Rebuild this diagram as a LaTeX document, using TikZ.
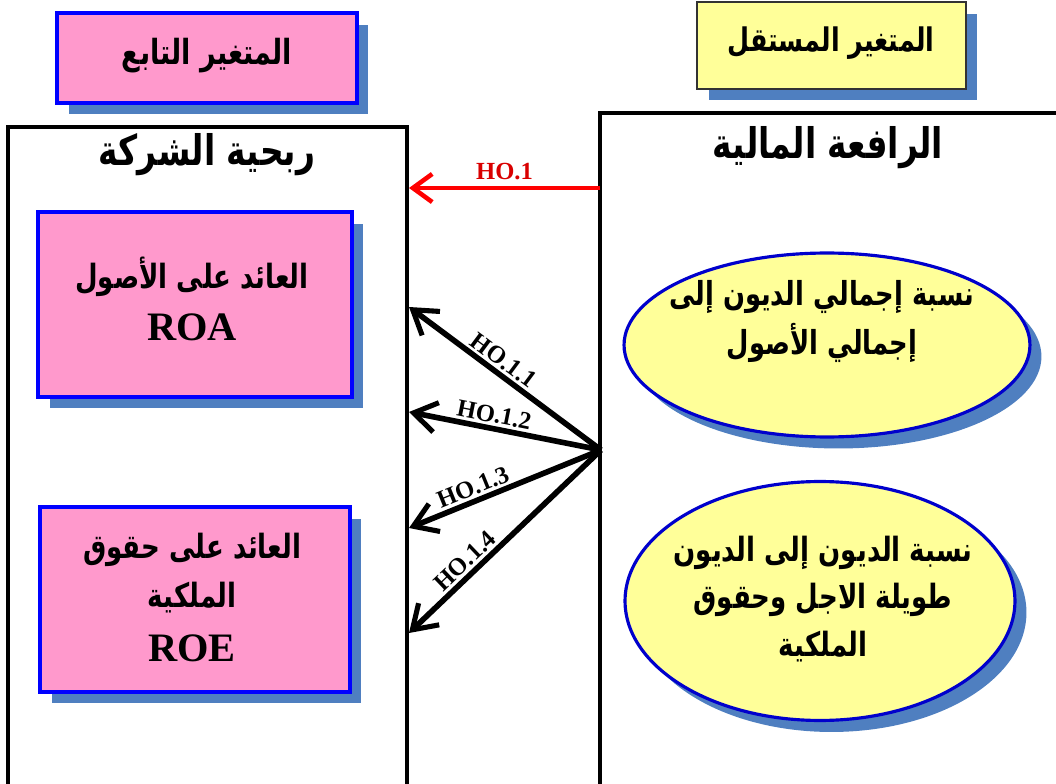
\documentclass[tikz,border=0pt]{standalone}
\usepackage{fontspec}
\setmainfont{Liberation Serif}
\newfontfamily\arabicfont[Script=Arabic, FakeStretch=0.78]{DejaVu Sans}
\TeXXeTstate=1
\usetikzlibrary{arrows.meta,shapes.geometric,shadows}
\definecolor{pinkfill}{HTML}{FF99CC}
\definecolor{yellowfill}{HTML}{FFFF99}
\definecolor{shadowblue}{HTML}{4F7FC0}
\definecolor{borderblue}{HTML}{0000FF}
\definecolor{ellborder}{HTML}{0000CC}
\tikzset{
  shad/.style={drop shadow={shadow xshift=0.23cm, shadow yshift=-0.23cm, fill=shadowblue, opacity=1}},
  pinkbox/.style={draw=borderblue, line width=2.4pt, fill=pinkfill, shad, align=center, inner sep=0pt},
  yellowbox/.style={draw=black!80, line width=0.8pt, fill=yellowfill, shad, align=center, inner sep=0pt},
  oval/.style={ellipse, draw=ellborder, line width=1.8pt, fill=yellowfill, shad, inner sep=0pt},
  frame/.style={draw=black, line width=1.8pt},
  ar/.style={font=\arabicfont\bfseries\fontsize{#1}{#1}\selectfont, align=center, inner sep=0pt},
  ar/.default=20,
  hlabel/.style={font=\bfseries\fontsize{14}{16}\selectfont, inner sep=0.5pt},
  hyp/.style={line width=3.2pt, -{Straight Barb[length=13pt, width=17pt, line width=2.9pt]}},
}
\begin{document}
\begin{tikzpicture}[x=0.02cm,y=-0.02cm]
\useasboundingbox (0,0) rectangle (1056,784);
% frames
\draw[frame] (8,800) -- (8,127) -- (407,127) -- (407,800);
\draw[frame] (600,800) -- (600,113) -- (1070,113);
% header boxes
\node[pinkbox, minimum width=6cm, minimum height=1.8cm] (dep) at (207,58) {};
\node[ar=19.7] (deptext) at (207,56) {\beginR المتغير التابع\endR};
\node[yellowbox, minimum width=5.38cm, minimum height=1.74cm] (ind) at (831.5,45.5) {};
\node[ar=18.5] (indtext) at (831,43) {\beginR المتغير المستقل\endR};
% titles
\node[ar=24] (ltitle) at (207,155) {\beginR ربحية الشركة\endR};
\node[ar=24] (rtitle) at (828,148) {\beginR الرافعة المالية\endR};
% left boxes
\node[pinkbox, minimum width=6.28cm, minimum height=3.7cm] (roa) at (195,304.5) {};
\node[ar=19] (roa1) at (192,277) {\beginR العائد على الأصول\endR};
\node[font=\bfseries\fontsize{23}{26}\selectfont, inner sep=0pt] (roa2) at (192,327) {ROA};
\node[pinkbox, minimum width=6.2cm, minimum height=3.7cm] (roe) at (195,599.5) {};
\node[ar=19] (roe1) at (192,550) {\beginR العائد على حقوق\endR};
\node[ar=19] (roe2) at (192,598) {\beginR الملكية\endR};
\node[font=\bfseries\fontsize{23}{26}\selectfont, inner sep=0pt] (roe3) at (192,648) {ROE};
% ellipses
\node[oval, minimum width=8.12cm, minimum height=3.68cm] (e1) at (827,345) {};
\node[ar=18.8] (e1a) at (822,297) {\beginR نسبة إجمالي الديون إلى\endR};
\node[ar=18.8] (e1b) at (822,343) {\beginR إجمالي الأصول\endR};
\node[oval, minimum width=7.8cm, minimum height=4.78cm] (e2) at (820,601) {};
\node[ar=19] (e2a) at (823,553) {\beginR نسبة الديون إلى الديون\endR};
\node[ar=19] (e2b) at (823,600) {\beginR طويلة الاجل وحقوق\endR};
\node[ar=19] (e2c) at (823,647) {\beginR الملكية\endR};
% connectors
\coordinate (redsrc) at (600,188);
\coordinate (redtip) at (409,188);
\coordinate (src) at (601,450);
\coordinate (t1) at (409,307);
\coordinate (t2) at (409,412);
\coordinate (t3) at (409,528);
\coordinate (t4) at (409,633);
\draw[red, line width=2.8pt, -{Straight Barb[length=11pt, width=16pt, line width=2.6pt]}] (redsrc) -- (redtip)
  node[midway, above=3pt, text=red!85!black, hlabel] (h0) {HO.1};
\draw[hyp] (src) -- (t1) node[pos=0.55, sloped, above=1pt, hlabel] (h1) {HO.1.1};
\draw[hyp] (src) -- (t2) node[pos=0.57, sloped, above=1pt, hlabel] (h2) {HO.1.2};
\draw[hyp] (src) -- (t3) node[pos=0.64, sloped, above=1pt, hlabel] (h3) {HO.1.3};
\draw[hyp] (src) -- (t4) node[pos=0.66, sloped, above=1pt, hlabel] (h4) {HO.1.4};
\end{tikzpicture}
\end{document}
